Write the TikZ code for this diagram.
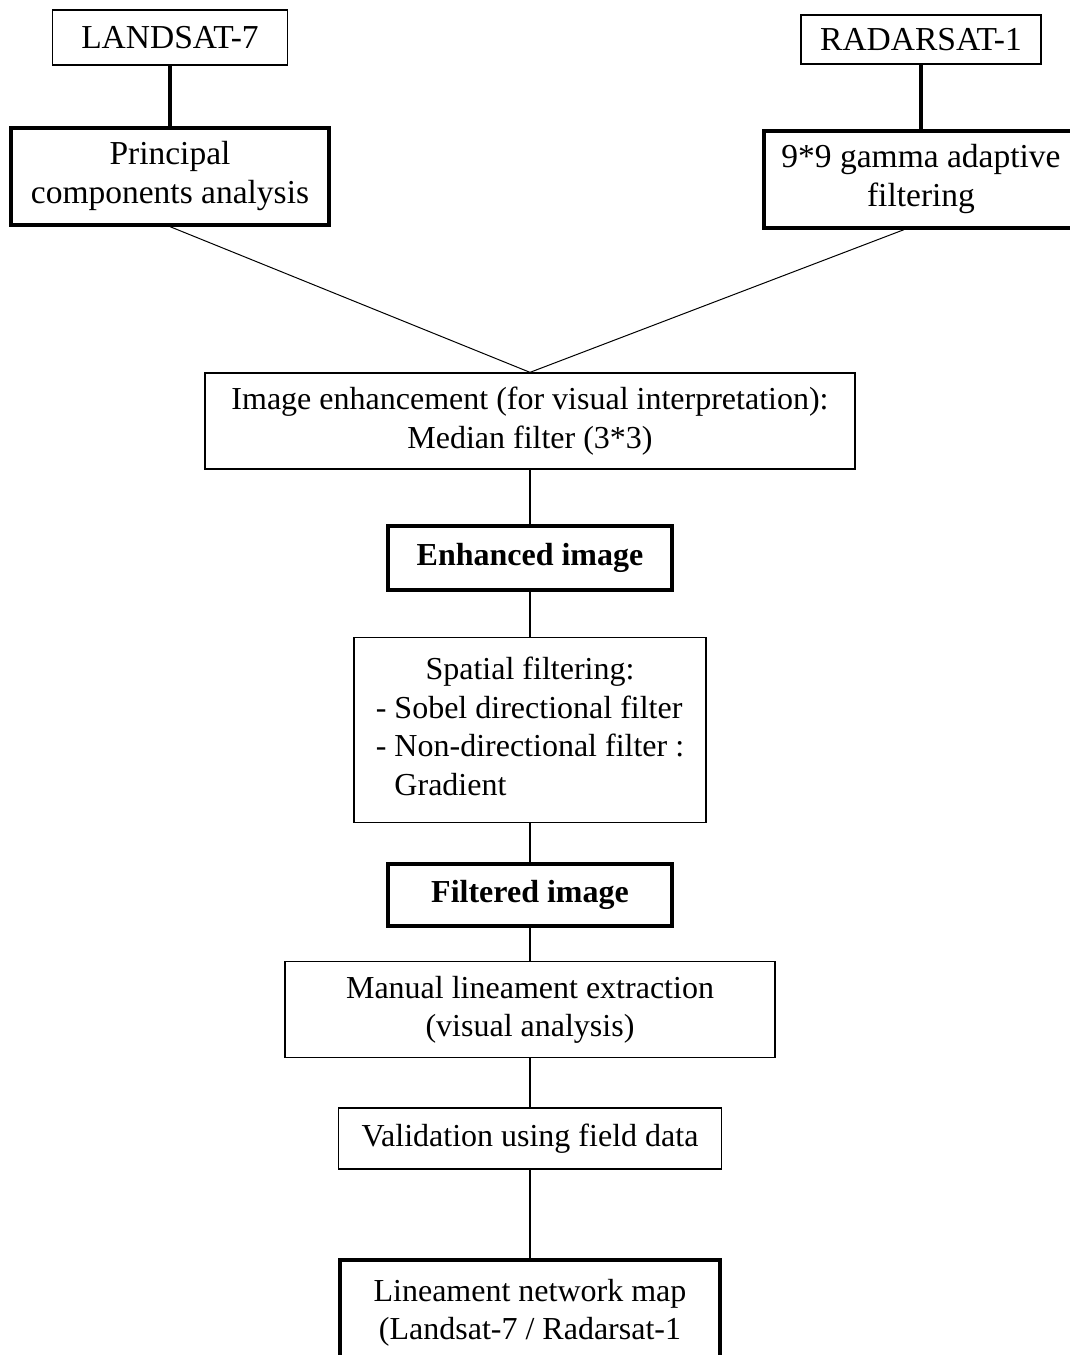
\documentclass[tikz,border=0pt]{standalone}
\usepackage{fontspec}
\setmainfont{Liberation Serif}
\usepackage{tikz}
\usetikzlibrary{positioning}

\tikzset{
  stage/.style={draw,line width=1.3pt,inner sep=0pt,align=center},
  result/.style={draw,line width=4pt,inner sep=0pt,align=center},
  small/.style={font=\fontsize{32}{38.5}\selectfont},
  link/.style={line width=2.2pt},
  feed/.style={line width=4.5pt},
}

\begin{document}
\begin{tikzpicture}[x=1pt,y=-1pt,font=\fontsize{33.5}{39}\selectfont]
\useasboundingbox (0,0) rectangle (1070,1355);
\clip (0,0) rectangle (1070,1355);

\node (landsat)[stage,minimum width=235pt,minimum height=55pt] at (170,37.5){LANDSAT-7};
\node (pca)[result,below=60pt of landsat,minimum width=318pt,minimum height=97pt]{Principal\\
	components analysis};

\node (radarsat)[stage,minimum width=240pt,minimum height=49pt] at (921,39.5){RADARSAT-1};
\node (gamma)[result,below=64pt of radarsat,minimum width=314pt,minimum height=97pt]{9*9 gamma adaptive\\
	filtering};

\node (enhance)[stage,small,minimum width=650pt,minimum height=96pt] at (530,421){Image enhancement (for visual interpretation):\\
	Median filter (3*3)};
\node (enhanced)[result,small,below=54pt of enhance,minimum width=284pt,minimum height=64pt]{\textbf{Enhanced image}};
\node (spatial)[stage,small,below=45pt of enhanced,minimum width=352pt,minimum height=185pt]{%
	\begin{tabular}{@{}l@{}}
	\multicolumn{1}{@{}c@{}}{Spatial filtering:}\\
	- Sobel directional filter\\
	- Non-directional filter :\\
	\phantom{- }Gradient
	\end{tabular}};
\node (filtered)[result,small,below=39pt of spatial,minimum width=284pt,minimum height=62pt]{\textbf{Filtered image}};
\node (manual)[stage,small,below=33pt of filtered,minimum width=490pt,minimum height=96pt]{Manual lineament extraction\\
	(visual analysis)};
\node (validation)[stage,small,below=49pt of manual,minimum width=383pt,minimum height=61pt]{Validation using field data};
\node (linmap)[result,below=88pt of validation,minimum width=380pt,minimum height=160pt]{};
\node (linmaptext)[small,align=center,below=18pt of linmap.north]{Lineament network map\\
	(Landsat-7 / Radarsat-1};

% draw the connections
\draw[feed] (landsat)--(pca);
\draw[feed] (radarsat)--(gamma);
\draw[line width=1pt] (pca.south)--(enhance.north);
\draw[line width=1pt] ([xshift=-17pt]gamma.south)--(enhance.north);
\draw[link] (enhance)--(enhanced);
\draw[link] (enhanced)--(spatial);
\draw[link] (spatial)--(filtered);
\draw[link] (filtered)--(manual);
\draw[link] (manual)--(validation);
\draw[link] (validation)--(linmap);
\end{tikzpicture}
\end{document}
